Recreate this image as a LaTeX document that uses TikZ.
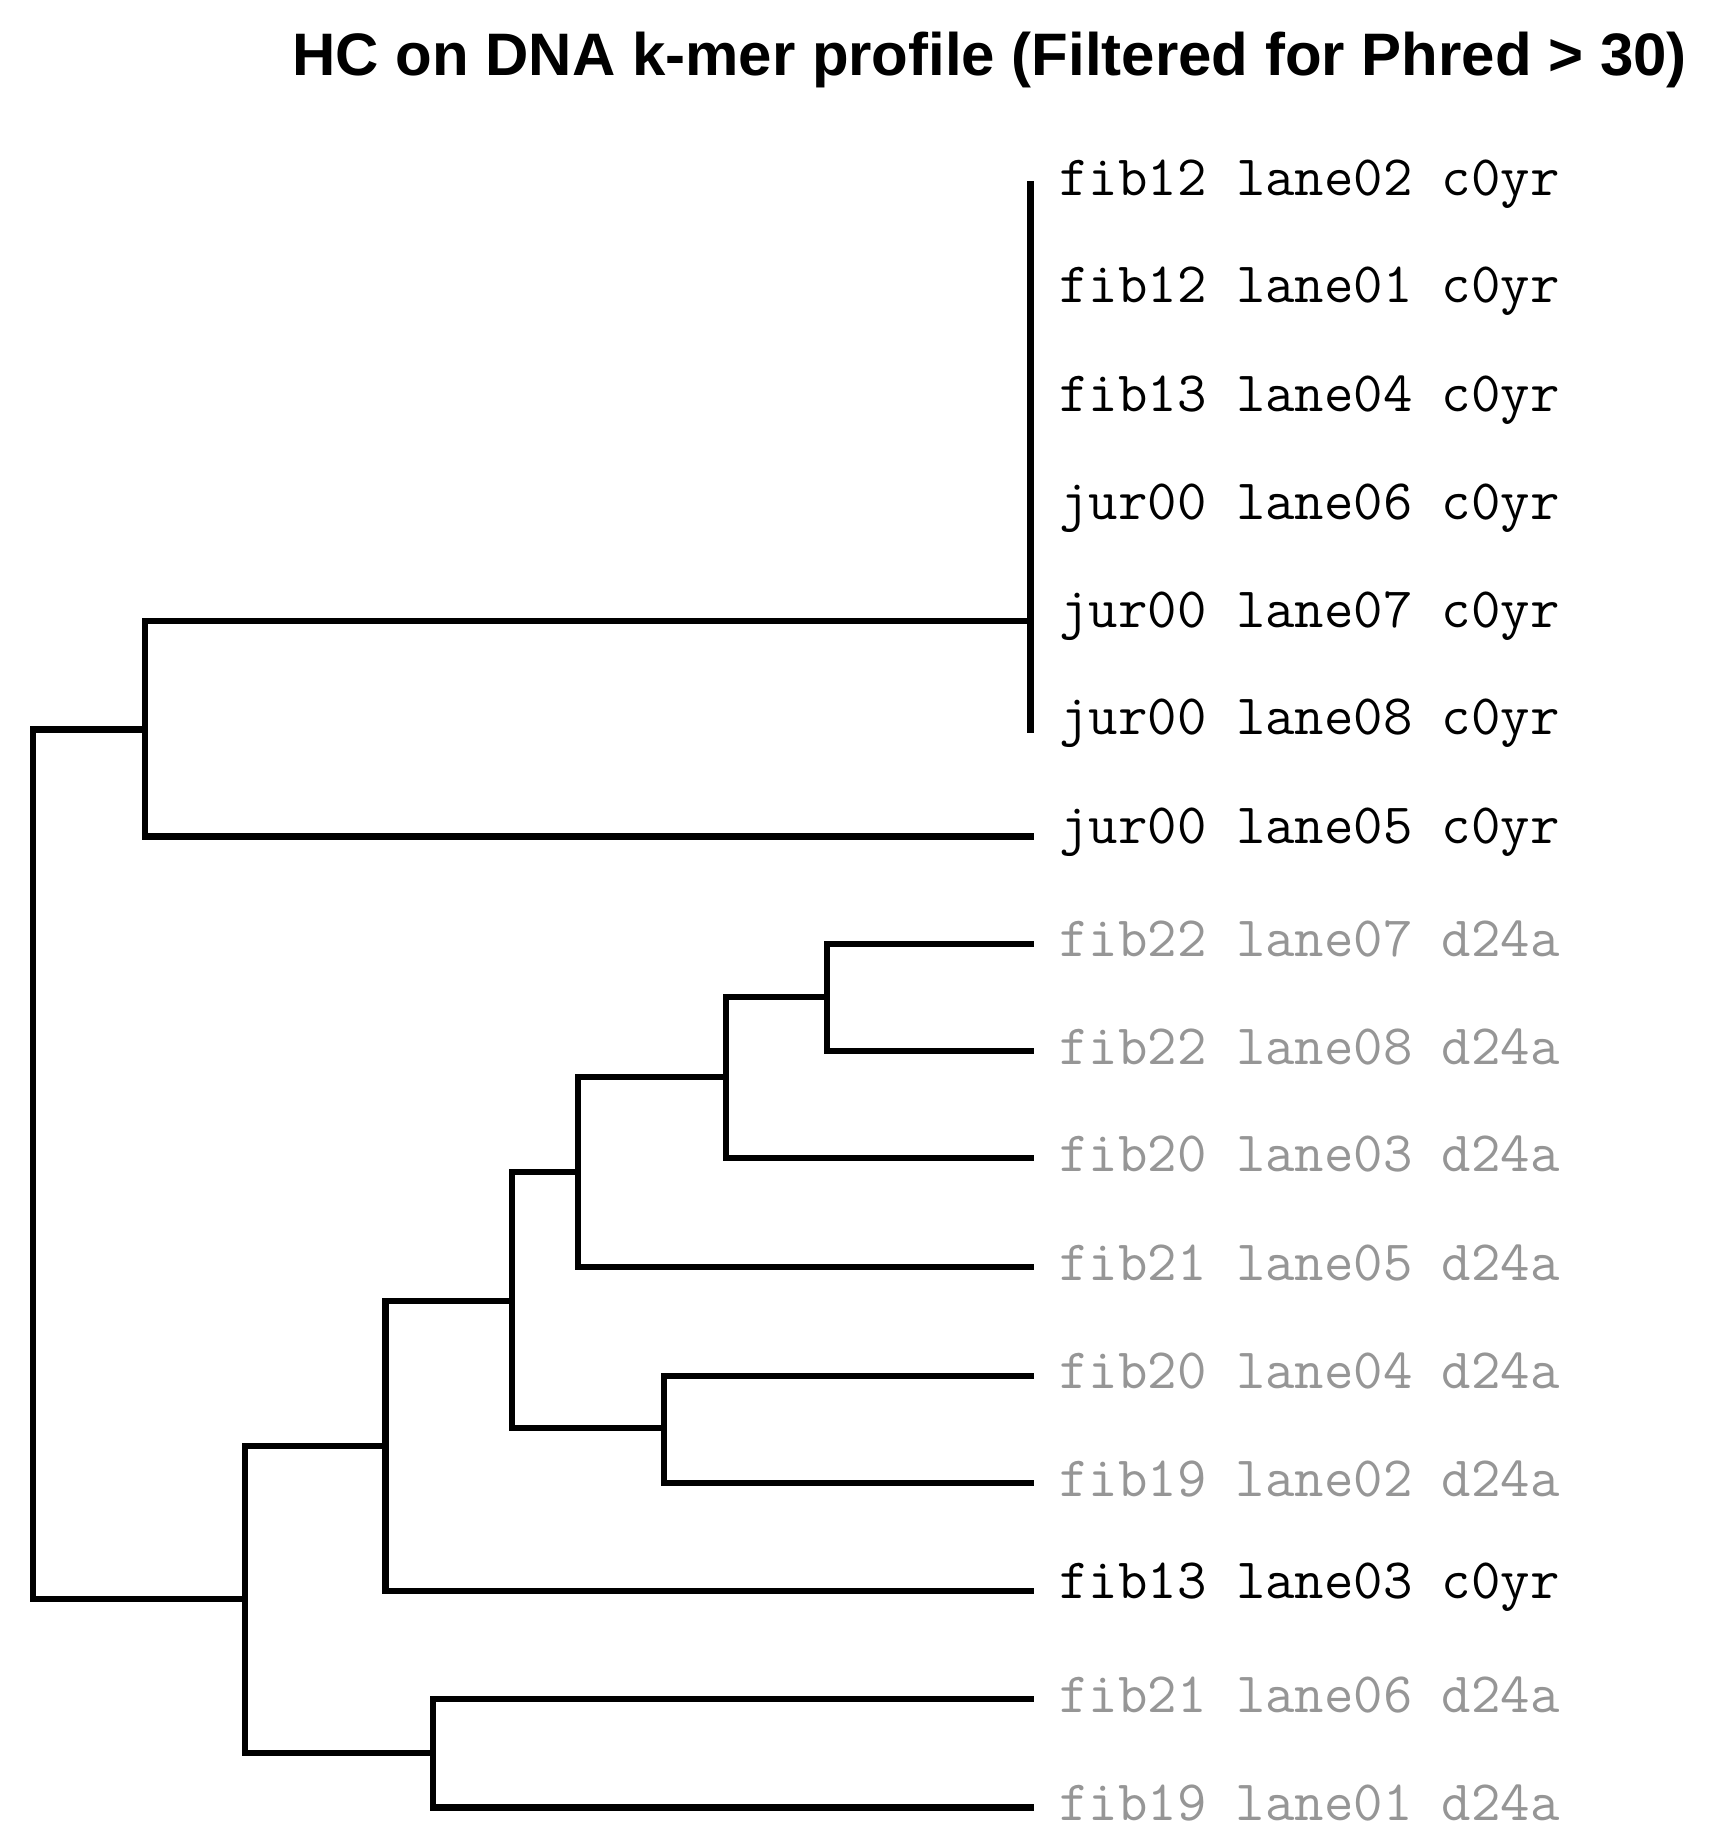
\documentclass[tikz,border=0pt]{standalone}
\usepackage{fontspec}
\setmainfont{Liberation Sans}
\newfontfamily\labfont{Latin Modern Mono}
\begin{document}
\begin{tikzpicture}[x=0.5pt,y=-0.5pt,
  br/.style={line width=2.6pt,line cap=rect},
  lab/.style={anchor=west,inner sep=0pt,font=\labfont\fontsize{24}{24}\selectfont},
  grey/.style={text={rgb,255:red,150;green,150;blue,150}}]
\useasboundingbox (0,0) rectangle (1440,1553);
\node[font=\bfseries\fontsize{25.2}{26}\selectfont,anchor=east,inner sep=0pt] (title) at (1418,50) {HC on DNA k-mer profile (Filtered for Phred > 30)};
% labels
\foreach \y/\t/\g [count=\i] in {
 155/fib12 lane02 c0yr/0, 245/fib12 lane01 c0yr/0, 336/fib13 lane04 c0yr/0,
 427/jur00 lane06 c0yr/0, 518/jur00 lane07 c0yr/0, 608/jur00 lane08 c0yr/0,
 699/jur00 lane05 c0yr/0, 789/fib22 lane07 d24a/1, 880/fib22 lane08 d24a/1,
 970/fib20 lane03 d24a/1, 1061/fib21 lane05 d24a/1, 1152/fib20 lane04 d24a/1,
 1243/fib19 lane02 d24a/1, 1334/fib13 lane03 c0yr/0, 1424/fib21 lane06 d24a/1,
 1515/fib19 lane01 d24a/1}{
  \ifnum\g=1 \node[lab,grey] (L\i) at (890,\y) {\t};
  \else \node[lab] (L\i) at (890,\y) {\t}; \fi
}
% dendrogram
\draw[br] (866,155) -- (866,613);
\draw[br] (28,1344) -- (28,613) -- (122,613);
\draw[br] (28,1344) -- (206,1344);
\draw[br] (866,522) -- (122,522) -- (122,703) -- (866,703);
\draw[br] (324,1215) -- (206,1215) -- (206,1473) -- (364,1473);
\draw[br] (430,1093) -- (324,1093) -- (324,1337) -- (866,1337);
\draw[br] (486,985) -- (430,985) -- (430,1200) -- (558,1200);
\draw[br] (610,905) -- (486,905) -- (486,1065) -- (866,1065);
\draw[br] (695,838) -- (610,838) -- (610,973) -- (866,973);
\draw[br] (866,793) -- (695,793) -- (695,883) -- (866,883);
\draw[br] (866,1156) -- (558,1156) -- (558,1246) -- (866,1246);
\draw[br] (866,1428) -- (364,1428) -- (364,1519) -- (866,1519);
\end{tikzpicture}
\end{document}
